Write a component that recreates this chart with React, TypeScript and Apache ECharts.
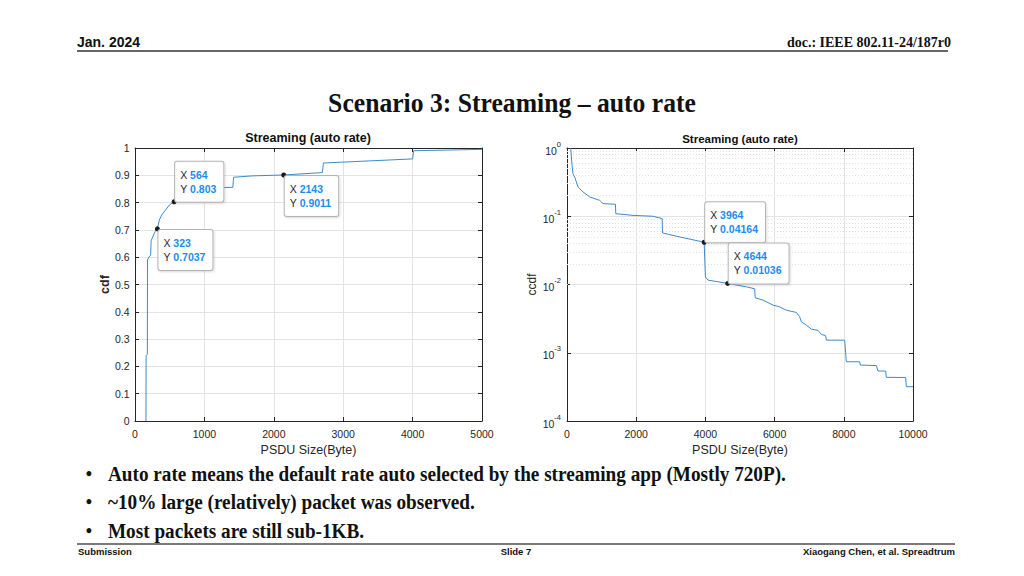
import React, { useEffect, useRef } from "react";
import * as echarts from "echarts";

// ---------- data ----------
const cdfPoints: [number, number][] = [
  [158, 0], [160, 0.24], [178, 0.245], [180, 0.59], [200, 0.6], [226, 0.608],
  [232, 0.66], [288, 0.693], [323, 0.7037], [350, 0.736], [385, 0.755],
  [432, 0.77], [495, 0.791], [564, 0.803], [700, 0.83], [900, 0.845],
  [1260, 0.855], [1410, 0.856], [1420, 0.893], [1700, 0.898], [2143, 0.9011],
  [2700, 0.91], [2715, 0.945], [4000, 0.96], [4015, 0.99], [5000, 0.995],
];

const ccdfPoints: [number, number][] = [
  [106, 1], [145, 0.56], [173, 0.42], [222, 0.377], [270, 0.318], [318, 0.269],
  [462, 0.227], [655, 0.192], [944, 0.171], [1040, 0.153], [1400, 0.15],
  [1410, 0.109], [1908, 0.103], [2486, 0.1], [2750, 0.0924], [2760, 0.057],
  [3160, 0.051], [3964, 0.04164], [4000, 0.0129], [4075, 0.0116],
  [4644, 0.01036], [5183, 0.00924], [5424, 0.00866], [5440, 0.00638],
  [5665, 0.0059], [5954, 0.00499], [6146, 0.0047], [6339, 0.0042],
  [6628, 0.0039], [6724, 0.00336], [6773, 0.00284], [6917, 0.00254],
  [7062, 0.00222], [7254, 0.00213], [7351, 0.00186], [7476, 0.00178],
  [7495, 0.00153], [8025, 0.00153], [8073, 0.000738], [8459, 0.000738],
  [8478, 0.00066], [8940, 0.00065], [8988, 0.00054], [9210, 0.00054],
  [9229, 0.000436], [9788, 0.000434], [9807, 0.000318], [10000, 0.000318],
];

const cdfTips: [number, number][] = [[323, 0.7037], [564, 0.803], [2143, 0.9011]];
const ccdfTips: [number, number][] = [[3964, 0.04164], [4644, 0.01036]];

const logMinorTicks: number[] = [
  0.2, 0.3, 0.4, 0.5, 0.6, 0.7, 0.8, 0.9,
  0.02, 0.03, 0.04, 0.05, 0.06, 0.07, 0.08, 0.09,
  0.002, 0.003, 0.004, 0.005, 0.006, 0.007, 0.008, 0.009,
  0.0002, 0.0003, 0.0004, 0.0005, 0.0006, 0.0007, 0.0008, 0.0009,
];

const bullets: string[] = [
  "Auto rate means the default rate auto selected by the streaming app (Mostly 720P).",
  "~10% large (relatively) packet was observed.",
  "Most packets are still sub-1KB.",
];

// ---------- styles ----------
const SANS = "'Liberation Sans', Arial, Helvetica, sans-serif";
const SERIF = "'Liberation Serif', 'Times New Roman', serif";
const AX = "#262626";
const GRIDC = "#e3e3e3";
const LINE = "#3d8bcb";

function tipData(tips: [number, number][], above: boolean[]) {
  return tips.map(([x, y], i) => ({
    coord: [x, y],
    label: {
      show: true,
      position: above[i] ? [3.5, 2.5] : [3.5, 3.5],
      align: "left",
      verticalAlign: above[i] ? "bottom" : "top",
      formatter: `{k|X }{v|${x}}\n{k|Y }{v|${y}}`,
      backgroundColor: "rgba(255,255,255,0.96)",
      borderColor: "#b4b4b4",
      borderWidth: 1,
      borderRadius: 2,
      padding: [6, 7, 6, 5],
      shadowColor: "rgba(0,0,0,0.15)",
      shadowBlur: 2,
      shadowOffsetX: 1,
      shadowOffsetY: 1,
      rich: {
        k: { color: AX, fontSize: 10.5, fontFamily: SANS, lineHeight: 14 },
        v: { color: "#1a8cf0", fontSize: 10.5, fontFamily: SANS, fontWeight: "bold", lineHeight: 14 },
      },
    },
  }));
}

function valueAxis(gridIndex: number, min: number, max: number, interval: number, extra: any = {}) {
  return {
    type: "value",
    gridIndex,
    min,
    max,
    interval,
    axisLine: { show: true, onZero: false, lineStyle: { color: AX, width: 1 } },
    axisTick: { show: true, inside: true, length: 4, lineStyle: { color: AX } },
    splitLine: { show: true, lineStyle: { color: GRIDC, width: 1 } },
    axisLabel: { color: AX, fontSize: 10.5, fontFamily: SANS, margin: 7, formatter: (v: number) => String(v) },
    ...extra,
  };
}

function mirrorAxis(base: any, position: string) {
  return {
    ...base,
    position,
    name: "",
    axisLabel: { show: false },
    splitLine: { show: false },
    minorSplitLine: { show: false },
  };
}

export default function App() {
  const ref = useRef<HTMLDivElement>(null);

  useEffect(() => {
    document.body.style.margin = "0";
    const chart = echarts.init(ref.current!, null, { renderer: "svg" });

    const nameStyle = { color: AX, fontSize: 12.5, fontFamily: SANS };

    const lx = valueAxis(0, 0, 5000, 1000, {
      name: "PSDU Size(Byte)",
      nameLocation: "middle",
      nameGap: 22,
      nameTextStyle: nameStyle,
    });
    const ly = valueAxis(0, 0, 1, 0.1, {
      name: "cdf",
      nameLocation: "middle",
      nameGap: 24,
      nameTextStyle: { ...nameStyle, fontWeight: "bold" },
      axisLabel: {
        color: AX, fontSize: 10.5, fontFamily: SANS, margin: 5.5,
        formatter: (v: number) => (v === 0 || v === 1 ? String(v) : v.toFixed(1)),
      },
    });
    const rx = valueAxis(1, 0, 10000, 2000, {
      name: "PSDU Size(Byte)",
      nameLocation: "middle",
      nameGap: 22,
      nameTextStyle: nameStyle,
    });
    const ry = {
      type: "log",
      gridIndex: 1,
      logBase: 10,
      min: 0.0001,
      max: 1,
      name: "ccdf",
      nameLocation: "middle",
      nameGap: 29,
      nameTextStyle: { ...nameStyle, fontSize: 12 },
      axisLine: { show: true, onZero: false, lineStyle: { color: AX, width: 1 } },
      axisTick: { show: true, inside: true, length: 4, lineStyle: { color: AX } },
      splitLine: { show: true, lineStyle: { color: GRIDC, width: 1 } },
      axisLabel: {
        color: AX,
        margin: 6,
        formatter: (v: number) => `{b|10}{s|${Math.round(Math.log10(v))}}`,
        rich: {
          b: { fontSize: 10.5, fontFamily: SANS, color: AX, verticalAlign: "bottom", lineHeight: 16 },
          s: { fontSize: 7.5, fontFamily: SANS, color: AX, verticalAlign: "top", lineHeight: 16 },
        },
      },
    };

    const option: any = {
      animation: false,
      backgroundColor: "#ffffff",
      grid: [
        { left: 135, top: 148, width: 347, height: 273, containLabel: false },
        { left: 567, top: 148, width: 346, height: 273, containLabel: false },
      ],
      xAxis: [lx, rx, mirrorAxis(lx, "top"), mirrorAxis(rx, "top")],
      yAxis: [ly, ry, mirrorAxis(ly, "right"), mirrorAxis(ry, "right")],
      series: [
        {
          type: "line",
          xAxisIndex: 0,
          yAxisIndex: 0,
          data: cdfPoints,
          showSymbol: false,
          lineStyle: { color: LINE, width: 1 },
          z: 3,
          markPoint: {
            symbol: "circle",
            symbolSize: 5,
            itemStyle: { color: "#1a1a1a" },
            data: tipData(cdfTips, [false, true, false]),
          },
        },
        {
          type: "line",
          xAxisIndex: 1,
          yAxisIndex: 1,
          data: ccdfPoints,
          showSymbol: false,
          lineStyle: { color: LINE, width: 1 },
          z: 3,
          markLine: {
            silent: true,
            symbol: ["none", "none"],
            label: { show: false },
            lineStyle: { color: "#e2e2e2", type: [1, 2], width: 1 },
            z: 1,
            data: logMinorTicks.map((v) => ({ yAxis: v })),
          },
          markPoint: {
            symbol: "circle",
            symbolSize: 5,
            itemStyle: { color: "#1a1a1a" },
            data: tipData(ccdfTips, [true, true]),
          },
        },
      ],
      graphic: [
        { type: "text", x: 77, y: 42, style: { text: "Jan. 2024", font: `bold 14px ${SANS}`, fill: "#111", textAlign: "left", textVerticalAlign: "middle" } },
        { type: "text", x: 951, y: 42, style: { text: "doc.: IEEE 802.11-24/187r0", font: `bold 14px ${SERIF}`, fill: "#111", textAlign: "right", textVerticalAlign: "middle" } },
        { type: "line", shape: { x1: 77, y1: 51, x2: 948, y2: 51 }, style: { stroke: "#333", lineWidth: 1.5 } },
        { type: "text", x: 512, y: 103, scaleX: 0.95, style: { text: "Scenario 3: Streaming \u2013 auto rate", font: `bold 27px ${SERIF}`, fill: "#111", textAlign: "center", textVerticalAlign: "middle" } },
        { type: "text", x: 308, y: 138, style: { text: "Streaming (auto rate)", font: `bold 12.5px ${SANS}`, fill: "#111", textAlign: "center", textVerticalAlign: "middle" } },
        { type: "text", x: 740, y: 139, style: { text: "Streaming (auto rate)", font: `bold 11.5px ${SANS}`, fill: "#111", textAlign: "center", textVerticalAlign: "middle" } },
        ...bullets.flatMap((b, i) => [
          { type: "text", x: 89, y: 473.5 + i * 28.6, style: { text: "\u2022", font: `bold 18px ${SERIF}`, fill: "#111", textAlign: "center", textVerticalAlign: "middle" } },
          { type: "text", x: 108, y: 473.5 + i * 28.6, scaleX: 0.915, style: { text: b, font: `bold 21px ${SERIF}`, fill: "#111", textAlign: "left", textVerticalAlign: "middle" } },
        ]),
        { type: "line", shape: { x1: 77, y1: 544, x2: 955, y2: 544 }, style: { stroke: "#7a7a7a", lineWidth: 2 } },
        { type: "text", x: 78, y: 551, style: { text: "Submission", font: `bold 9.5px ${SANS}`, fill: "#111", textAlign: "left", textVerticalAlign: "middle" } },
        { type: "text", x: 516, y: 551, style: { text: "Slide 7", font: `bold 9.5px ${SANS}`, fill: "#111", textAlign: "center", textVerticalAlign: "middle" } },
        { type: "text", x: 955, y: 551, style: { text: "Xiaogang Chen, et al. Spreadtrum", font: `bold 9.5px ${SANS}`, fill: "#111", textAlign: "right", textVerticalAlign: "middle" } },
      ],
    };

    chart.setOption(option);
    return () => chart.dispose();
  }, []);

  return (
    <div
      ref={ref}
      style={{ position: "fixed", left: 0, top: 0, width: 1024, height: 576, background: "#fff" }}
    />
  );
}
